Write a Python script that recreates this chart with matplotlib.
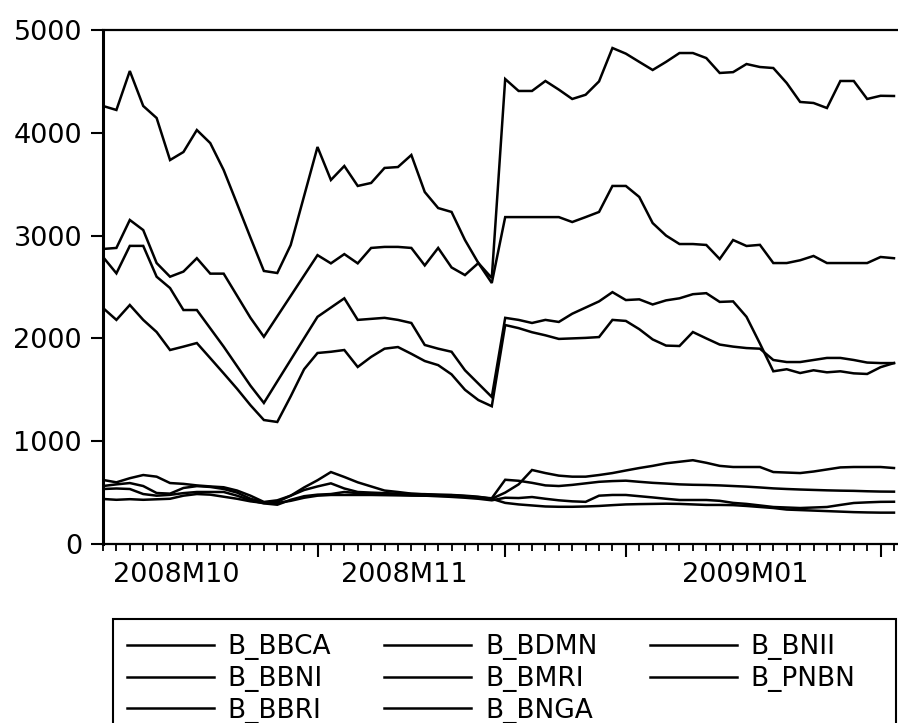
import numpy as np
import matplotlib
matplotlib.use("Agg")
import matplotlib.pyplot as plt
from matplotlib.patches import Rectangle

plt.rcParams['font.family'] = ['DejaVu Sans']

# ---------------- data ----------------
B_BBRI = [4261, 4222, 4601, 4261, 4144, 3735, 3813, 4027, 3900, 3638,
          3310, 2980, 2656, 2636, 2908, 3385, 3862, 3541, 3677, 3483,
          3512, 3658, 3667, 3784, 3424, 3268, 3230, 2957, 2733, 2587,
          4523, 4407, 4407, 4504, 4420, 4329, 4370, 4500, 4825, 4770,
          4690, 4611, 4690, 4776, 4776, 4727, 4582, 4590, 4669, 4640,
          4630, 4484, 4300, 4290, 4241, 4504, 4504, 4329, 4360, 4358]
B_BBCA = [2870, 2880, 3152, 3054, 2733, 2600, 2650, 2780, 2630, 2630,
          2415, 2200, 2016, 2215, 2413, 2612, 2810, 2730, 2820, 2730,
          2880, 2890, 2890, 2880, 2710, 2880, 2690, 2616, 2733, 2539,
          3180, 3180, 3180, 3180, 3180, 3132, 3180, 3230, 3483, 3483,
          3376, 3122, 3000, 2918, 2918, 2909, 2772, 2957, 2899, 2910,
          2733, 2733, 2760, 2802, 2733, 2733, 2733, 2733, 2792, 2780]
B_BMRI = [2792, 2633, 2900, 2900, 2600, 2490, 2276, 2276, 2098, 1920,
          1730, 1540, 1372, 1582, 1791, 2001, 2210, 2300, 2390, 2180,
          2190, 2200, 2180, 2150, 1936, 1900, 1870, 1690, 1560, 1430,
          2200, 2180, 2150, 2180, 2160, 2240, 2300, 2360, 2450, 2373,
          2380, 2330, 2370, 2390, 2430, 2440, 2355, 2360, 2210, 1950,
          1680, 1700, 1663, 1690, 1670, 1680, 1660, 1654, 1720, 1760]
B_BDMN = [2296, 2180, 2325, 2180, 2062, 1887, 1920, 1955, 1808, 1660,
          1510, 1350, 1206, 1187, 1436, 1700, 1858, 1870, 1887, 1722,
          1820, 1900, 1916, 1850, 1780, 1740, 1650, 1500, 1400, 1340,
          2130, 2100, 2060, 2030, 1995, 2000, 2005, 2013, 2180, 2170,
          2090, 1990, 1930, 1926, 2062, 2000, 1940, 1920, 1906, 1900,
          1790, 1770, 1770, 1790, 1810, 1810, 1790, 1765, 1760, 1760]
B_BBNI = [623, 600, 640, 671, 655, 593, 585, 570, 560, 552,
          520, 470, 409, 425, 470, 550, 620, 700, 652, 600,
          560, 520, 506, 490, 482, 477, 477, 470, 460, 440,
          500, 580, 720, 690, 665, 655, 655, 671, 690, 715,
          739, 760, 785, 800, 815, 790, 760, 749, 749, 749,
          700, 695, 690, 705, 725, 745, 749, 749, 749, 739]
B_BNGA = [564, 580, 593, 564, 496, 490, 545, 563, 555, 535,
          500, 440, 405, 410, 470, 525, 560, 590, 540, 506,
          500, 495, 490, 487, 485, 480, 475, 465, 455, 445,
          625, 615, 595, 570, 564, 575, 590, 605, 612, 616,
          605, 595, 588, 580, 576, 574, 570, 564, 558, 550,
          541, 535, 530, 526, 522, 519, 517, 513, 510, 509]
B_PNBN = [535, 540, 535, 486, 470, 478, 495, 506, 506, 506,
          470, 425, 395, 382, 430, 465, 480, 486, 506, 495,
          490, 485, 480, 475, 470, 465, 458, 450, 440, 425,
          450, 447, 457, 440, 425, 415, 410, 470, 477, 477,
          465, 453, 440, 428, 428, 428, 420, 400, 390, 375,
          360, 355, 350, 355, 360, 380, 399, 405, 410, 411]
B_BNII = [438, 430, 436, 430, 435, 440, 470, 486, 480, 460,
          440, 415, 399, 399, 420, 450, 470, 477, 477, 477,
          477, 475, 473, 471, 470, 468, 466, 460, 452, 440,
          400, 385, 375, 365, 362, 362, 365, 370, 378, 385,
          388, 390, 392, 390, 385, 380, 380, 378, 370, 360,
          350, 335, 330, 325, 320, 315, 310, 307, 305, 305]

legend_order = ["B_BBCA", "B_BBNI", "B_BBRI", "B_BDMN", "B_BMRI",
                "B_BNGA", "B_BNII", "B_PNBN"]
series = {"B_BBCA": B_BBCA, "B_BBNI": B_BBNI, "B_BBRI": B_BBRI,
          "B_BDMN": B_BDMN, "B_BMRI": B_BMRI, "B_BNGA": B_BNGA,
          "B_BNII": B_BNII, "B_PNBN": B_PNBN}

month_labels = ["2008M10", "2008M11", "2009M01"]
month_label_pos = [5.5, 22.5, 47.9]
month_tick_pos = [16, 30, 39, 58]
y_ticks = [0, 1000, 2000, 3000, 4000, 5000]

# ---------------- figure ----------------
W, H = 898, 723
fig = plt.figure(figsize=(W / 100, H / 100), dpi=100)
left, right, top, bottom = 103, 898, 30, 544
ax = fig.add_axes([left / W, 1 - bottom / H, (right - left) / W, (bottom - top) / H])

x = np.arange(len(B_BBRI))
handles = {}
for name in legend_order:
    ln, = ax.plot(x, series[name], color='black', lw=1.8, solid_joinstyle='miter')
    handles[name] = ln

ax.set_xlim(0, 59.3)
ax.set_ylim(0, 5000)

for s in ['left', 'top', 'bottom']:
    ax.spines[s].set_color('black')
ax.spines['left'].set_linewidth(2.2)
ax.spines['top'].set_linewidth(1.6)
ax.spines['bottom'].set_linewidth(1.6)
ax.spines['right'].set_visible(False)

ax.set_yticks(y_ticks)
ax.set_yticklabels([str(v) for v in y_ticks])
ax.tick_params(axis='y', direction='out', length=8.6, width=1.5, pad=6.5,
               labelsize=19.5, colors='black')

ax.set_xticks(month_tick_pos)
ax.set_xticklabels([])
ax.set_xticks(np.arange(0, 60), minor=True)
ax.tick_params(axis='x', which='major', direction='out', length=9.5, width=1.5)
ax.tick_params(axis='x', which='minor', direction='out', length=5, width=1.3)

sec = ax.secondary_xaxis('bottom')
sec.set_xticks(month_label_pos)
sec.set_xticklabels(month_labels)
sec.tick_params(axis='x', length=0, pad=13, labelsize=19.5)
sec.spines['bottom'].set_visible(False)

# legend
fig.legend([handles[n] for n in legend_order], legend_order,
           loc='upper left', bbox_to_anchor=(127 / W, 1 - 634 / H),
           bbox_transform=fig.transFigure, ncol=3, frameon=False,
           fontsize=19, handlelength=3.3, handletextpad=0.52,
           columnspacing=2.0, labelspacing=0.22, borderpad=0, borderaxespad=0)
fig.patches.append(Rectangle((113 / W, -0.05), (896 - 113) / W, 0.05 + 1 - 619 / H,
                             transform=fig.transFigure, fill=False,
                             edgecolor='black', linewidth=1.5))

fig.savefig('out.png', dpi=100)
